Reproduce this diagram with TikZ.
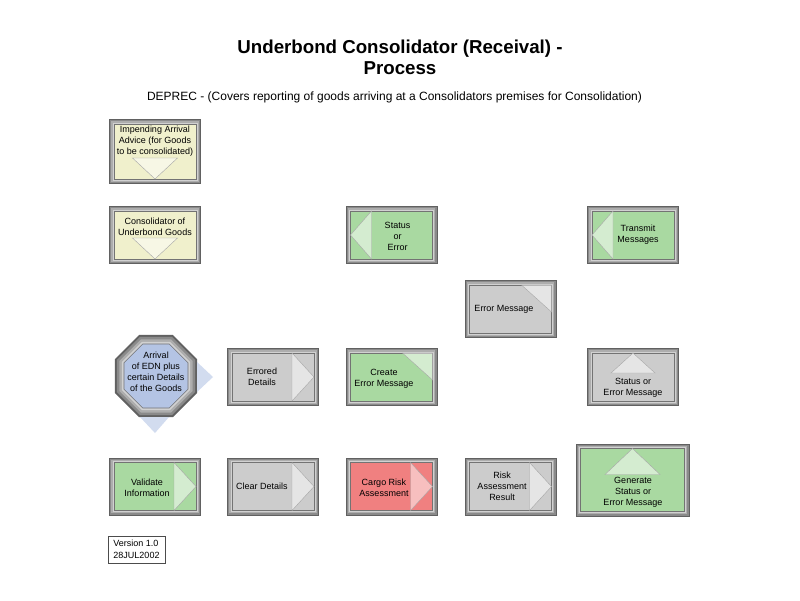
\documentclass[tikz,border=0pt]{standalone}
\usepackage{fontspec}
\setmainfont{Liberation Sans}
\usetikzlibrary{calc,shapes.geometric}
\definecolor{yel}{RGB}{240,240,204}
\definecolor{grn}{RGB}{169,217,161}
\definecolor{gry}{RGB}{204,204,204}
\definecolor{rd}{RGB}{240,128,128}
\definecolor{blu}{RGB}{180,196,228}
\begin{document}
\begin{tikzpicture}
	[x=1pt,y=-1pt,
	box/.style={rectangle,minimum width=82pt,minimum height=48pt,inner sep=0pt,outer sep=0pt,
		draw=black!55,line width=.6pt,
		preaction={draw=black!62,line width=10pt},
		preaction={draw=black!46,line width=8pt},
		preaction={draw=black!32,line width=5.5pt},
		preaction={draw=black!18,line width=3pt}},
	oct/.style={regular polygon,regular polygon sides=8,minimum size=69.3pt,inner sep=0pt,outer sep=0pt,
		draw=black!55,line width=.6pt,
		preaction={draw=black!62,line width=18pt},
		preaction={draw=black!46,line width=14pt},
		preaction={draw=black!32,line width=9pt},
		preaction={draw=black!18,line width=4pt}},
	tri/.style={fill=white,fill opacity=.5,draw=black!35,line width=.4pt},
	txt/.style={align=center,inner sep=0pt,font=\fontsize{9}{11}\selectfont}]
	\useasboundingbox (0,0) rectangle (800,600);
	
	% headings
	\node[align=center,inner sep=0pt,anchor=north,font=\fontsize{18.7}{21}\selectfont\bfseries] (title) at (400,40)
		{Underbond Consolidator (Receival) -\\Process};
	\node[inner sep=0pt,anchor=base,font=\fontsize{12}{14}\selectfont] (sub) at (394.5,100)
		{DEPREC - (Covers reporting of goods arriving at a Consolidators premises for Consolidation)};
	
	% boxes
	\node[box,fill=yel,minimum height=55pt] (imp) at (155,151.5) {};
	\node[box,fill=grn,minimum width=104pt,minimum height=63pt] (gen) at (632.5,480) {};
	\foreach \n/\x/\y/\c in {cons/155/235/yel,stat/391.5/235/grn,trans/633/235/grn,
		errmsg/510.5/309/gry,errd/273/377/gry,create/391.5/377/grn,sem/633/377/gry,
		valid/155/486.5/grn,clear/273/486.5/gry,cargo/391.5/486.5/rd,risk/510.5/486.5/gry}
	\node[box,fill=\c] (\n) at (\x,\y) {};
	\node[oct,fill=blu] (arr) at (156,376) {};
	
	% arrows inside the boxes
	\foreach \b in {errd,valid,clear,cargo,risk}
	\filldraw[tri] ($(\b.north east)+(-22,0)$) -- (\b.east) -- ($(\b.south east)+(-22,0)$) -- cycle;
	\foreach \b in {stat,trans}
	\filldraw[tri] ($(\b.north west)+(21,0)$) -- (\b.west) -- ($(\b.south west)+(21,0)$) -- cycle;
	\foreach \b in {imp,cons}
	\filldraw[tri] ($(\b.south)+(-22.5,-21)$) -- (\b.south) -- ($(\b.south)+(22.5,-21)$) -- cycle;
	\foreach \b in {errmsg,create}
	\filldraw[tri] ($(\b.north east)+(-30,0)$) -- (\b.north east) -- ($(\b.north east)+(0,27)$) -- cycle;
	\filldraw[tri] (sem.north) -- ($(sem.north)+(22,20)$) -- ($(sem.north)+(-22,20)$) -- cycle;
	\filldraw[tri] (gen.north) -- ($(gen.north)+(27.5,26)$) -- ($(gen.north)+(-27.5,26)$) -- cycle;
	\fill[blu!60!white] ($(arr.east)+(9,-14)$) -- ($(arr.east)+(25,1)$) -- ($(arr.east)+(9,16)$) -- cycle;
	\fill[blu!60!white] ($(arr.south)+(-16,9)$) -- ($(arr.south)+(13,9)$) -- ($(arr.south)+(-1,25)$) -- cycle;
	
	% texts
	\node[txt] (imp-t) at ($(imp)+(0,-10.5)$) {Impending Arrival\\Advice (for Goods\\to be consolidated)};
	\node[txt] (cons-t) at ($(cons)+(0,-8.5)$) {Consolidator of\\Underbond Goods};
	\node[txt] (stat-t) at ($(stat)+(6,1)$) {Status\\or\\Error};
	\node[txt] (trans-t) at ($(trans)+(5,0)$) {Transmit\\Messages};
	\node[txt] (errmsg-t) at ($(errmsg)+(-6.5,0)$) {Error Message};
	\node[txt] (arr-t) at ($(arr)+(0,-4)$) {Arrival\\of EDN plus\\certain Details\\of the Goods};
	\node[txt] (errd-t) at ($(errd)+(-11,0)$) {Errored\\Details};
	\node[txt] (create-t) at ($(create)+(-7.5,1.5)$) {Create\\Error Message};
	\node[txt] (sem-t) at ($(sem)+(0,10.5)$) {Status or\\Error Message};
	\node[txt] (valid-t) at ($(valid)+(-8,1)$) {Validate\\Information};
	\node[txt] (clear-t) at ($(clear)+(-11,0)$) {Clear Details};
	\node[txt] (cargo-t) at ($(cargo)+(-7.5,1)$) {Cargo Risk\\Assessment};
	\node[txt] (risk-t) at ($(risk)+(-8.5,0)$) {Risk\\Assessment\\Result};
	\node[txt] (gen-t) at ($(gen)+(0.5,12)$) {Generate\\Status or\\Error Message};
	
	% version
	\node[draw=black!70,line width=.5pt,align=left,inner sep=0pt,minimum width=57pt,minimum height=27pt,
		font=\fontsize{9}{12}\selectfont] (ver) at (136.5,549.5) {Version 1.0\\28JUL2002};
\end{tikzpicture}
\end{document}
